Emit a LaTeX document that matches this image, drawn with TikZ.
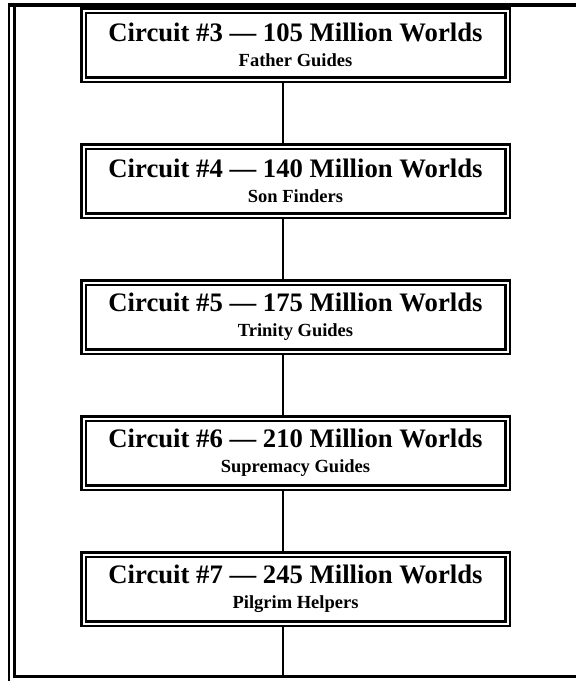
\documentclass[tikz,border=0pt]{standalone}
\usepackage{fontspec}
\setmainfont{Liberation Serif}
\usetikzlibrary{positioning}
\newcommand{\boxsub}[1]{{\fontsize{18.5}{22}\selectfont #1}}

\begin{document}
\begin{tikzpicture}[
    circuit/.style={
        rectangle,
        draw,
        double,
        double distance=2pt,
        line width=2.5pt,
        minimum width=424pt,
        minimum height=69pt,
        inner sep=0pt,
        outer sep=3.5pt,% anchors on the outer edge of the double line
        align=center,
        font=\fontsize{26.7}{25}\selectfont\bfseries,
        execute at begin node=\rule{0pt}{25pt}% text sits a little low
    },
    link/.style={line width=2.5pt}
]

    \useasboundingbox (0,0) rectangle (576pt,-681pt);

    % --- frame (cut at the right) ---
    \draw[line width=4pt] (8pt,-5pt) -- (576pt,-5pt);
    \draw[line width=2pt] (9pt,-3pt) -- (9pt,-681pt);
    \draw[line width=3pt] (14.5pt,-3pt) -- (14.5pt,-678pt);
    \draw[line width=3.5pt] (13pt,-676.5pt) -- (576pt,-676.5pt);
    \coordinate (floor) at (0,-676.5pt);

    % --- circuits ---
    \node[circuit] (c3) at (295.5pt,-45pt) {%
        Circuit \#3 — 105 Million Worlds\\\boxsub{Father Guides}};
    \node[circuit, below=60pt of c3] (c4) {%
        Circuit \#4 — 140 Million Worlds\\\boxsub{Son Finders}};
    \node[circuit, below=60pt of c4] (c5) {%
        Circuit \#5 — 175 Million Worlds\\\boxsub{Trinity Guides}};
    \node[circuit, below=60pt of c5] (c6) {%
        Circuit \#6 — 210 Million Worlds\\\boxsub{Supremacy Guides}};
    \node[circuit, below=60pt of c6] (c7) {%
        Circuit \#7 — 245 Million Worlds\\\boxsub{Pilgrim Helpers}};

    % --- links ---
    \draw[link] ([xshift=-12.5pt]c3.south) -- ([xshift=-12.5pt]c4.north);
    \draw[link] ([xshift=-12.5pt]c4.south) -- ([xshift=-12.5pt]c5.north);
    \draw[link] ([xshift=-12.5pt]c5.south) -- ([xshift=-12.5pt]c6.north);
    \draw[link] ([xshift=-12.5pt]c6.south) -- ([xshift=-12.5pt]c7.north);
    \coordinate (foot) at ([xshift=-12.5pt]c7.south);
    \draw[link] (foot) -- (foot |- floor);

\end{tikzpicture}
\end{document}
